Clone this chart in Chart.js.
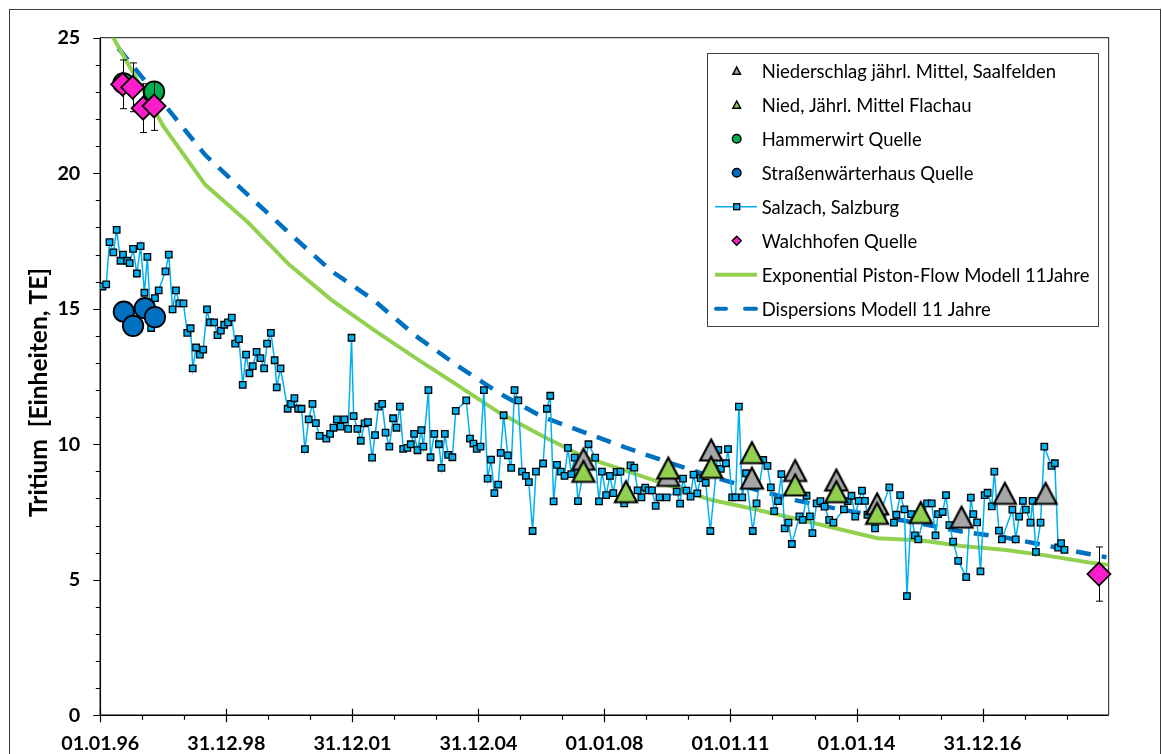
<!DOCTYPE html>
<html><head><meta charset="utf-8">
<script src="https://cdn.jsdelivr.net/npm/chart.js@4"></script>
<style>html,body{margin:0;padding:0;background:#fff;}canvas{display:block}</style>
</head><body>
<canvas id="c" width="1162" height="754"></canvas>
<script>
// ---------- tick labels ----------
const xTickYears = [1996, 1999, 2002, 2005, 2008, 2011, 2014, 2017];
const xTickLabels = ['01.01.96','31.12.98','31.12.01','31.12.04','01.01.08','01.01.11','01.01.14','31.12.16'];
const yTicks = [0, 5, 10, 15, 20, 25];
const yTitle = 'Tritium  [Einheiten, TE]';

// ---------- series ----------
const seriesNames = [
  'Niederschlag jährl. Mittel, Saalfelden',
  'Nied, Jährl. Mittel Flachau',
  'Hammerwirt Quelle',
  'Straßenwärterhaus Quelle',
  'Salzach, Salzburg',
  'Walchhofen Quelle',
  'Exponential Piston-Flow Modell 11Jahre',
  'Dispersions Modell 11 Jahre'
];

const saalfeldenYears  = [2007.50, 2009.52, 2010.54, 2011.51, 2012.54, 2013.52, 2014.49, 2016.50, 2017.53, 2018.50];
const saalfeldenValues = [9.45, 8.85, 9.79, 8.75, 9.03, 8.68, 7.80, 7.31, 8.19, 8.19];

const flachauYears  = [2007.50, 2008.51, 2009.52, 2010.54, 2011.51, 2012.54, 2013.52, 2014.49, 2015.53];
const flachauValues = [9.00, 8.25, 9.12, 9.15, 9.69, 8.50, 8.25, 7.45, 7.48];

const hammerwirtYears  = [1996.55, 1997.28];
const hammerwirtValues = [23.32, 23.01];

const strassenYears  = [1996.56, 1996.78, 1997.06, 1997.30];
const strassenValues = [14.89, 14.37, 15.02, 14.69];

const walchhofenYears  = [1996.53, 1996.77, 1997.02, 1997.28, 2019.77];
const walchhofenValues = [23.28, 23.17, 22.40, 22.48, 5.21];
const walchhofenErrors = [0.9, 0.9, 0.9, 0.9, 1.0];

const salzachYears = [
1996.05,1996.14,1996.22,1996.31,1996.39,1996.48,1996.54,1996.64,1996.70,1996.78,1996.87,1996.96,
1997.05,1997.12,1997.21,1997.30,1997.39,1997.55,1997.63,1997.72,1997.80,1997.88,1997.98,
1998.07,1998.15,1998.20,1998.28,1998.37,1998.45,1998.54,1998.61,1998.71,1998.79,1998.87,1998.95,
1999.04,1999.13,1999.21,1999.30,1999.39,1999.47,1999.55,1999.63,1999.72,1999.81,1999.90,1999.97,
2000.06,2000.15,2000.20,2000.29,2000.46,2000.54,2000.62,2000.71,2000.79,2000.87,2000.96,
2001.05,2001.13,2001.22,2001.38,2001.47,2001.55,2001.63,2001.72,2001.81,2001.90,2001.98,
2002.03,2002.12,2002.20,2002.29,2002.37,2002.47,2002.54,2002.62,2002.71,2002.79,2002.88,2002.97,
2003.05,2003.13,2003.21,2003.31,2003.39,2003.47,2003.55,2003.64,2003.69,2003.81,2003.86,2003.95,
2004.06,2004.12,2004.20,2004.28,2004.38,2004.46,2004.71,2004.80,2004.88,2004.96,
2005.05,2005.13,2005.22,2005.30,2005.38,2005.47,2005.53,2005.60,2005.70,2005.78,2005.86,2005.95,
2006.04,2006.13,2006.20,2006.29,2006.37,2006.54,2006.63,2006.71,2006.79,2006.87,2006.96,
2007.05,2007.13,2007.21,2007.29,2007.37,2007.62,2007.78,2007.87,2007.94,
2008.04,2008.13,2008.21,2008.29,2008.38,2008.47,2008.53,2008.62,2008.71,2008.79,2008.88,2008.97,
2009.05,2009.13,2009.22,2009.31,2009.48,2009.72,2009.80,2009.87,2009.95,
2010.05,2010.12,2010.21,2010.29,2010.41,2010.52,2010.71,2010.77,2010.89,2010.94,
2011.04,2011.12,2011.20,2011.28,2011.37,2011.53,2011.62,2011.78,2011.88,2011.96,
2012.04,2012.13,2012.21,2012.29,2012.38,2012.46,2012.64,2012.72,2012.81,2012.89,2012.95,
2013.05,2013.14,2013.24,2013.35,2013.45,2013.70,2013.79,2013.88,2013.97,
2014.05,2014.13,2014.20,2014.26,2014.44,2014.78,2014.89,2014.95,
2015.04,2015.14,2015.20,2015.30,2015.39,2015.47,2015.68,2015.79,2015.88,2015.94,
2016.05,2016.13,2016.21,2016.30,2016.42,2016.61,2016.72,2016.78,2016.87,2016.95,
2017.05,2017.12,2017.22,2017.28,2017.39,2017.46,2017.71,2017.79,2017.87,2017.96,
2018.03,2018.14,2018.19,2018.27,2018.38,2018.47,2018.64,2018.72,2018.80,2018.87,2018.95
];
const salzachValues = [
15.82,15.90,17.46,17.08,17.91,16.77,17.00,16.77,16.68,17.21,16.30,17.31,
15.59,16.91,14.29,15.39,15.68,16.38,17.00,14.98,15.68,15.20,15.20,
14.11,14.28,12.80,13.57,13.31,13.49,14.98,14.50,14.50,14.03,14.19,14.41,
14.50,14.67,13.71,13.88,12.19,13.31,12.62,12.88,13.41,13.18,12.80,13.71,
14.11,13.10,12.10,12.80,11.31,11.49,11.70,11.31,11.31,9.82,10.92,
11.49,10.78,10.31,10.21,10.38,10.61,10.92,10.65,10.92,10.57,13.93,
11.04,10.57,10.13,10.77,10.82,9.51,10.34,11.39,11.49,10.43,9.91,10.96,
10.61,11.39,9.83,9.87,10.00,10.38,9.78,10.52,9.91,12.00,9.52,10.38,
10.00,9.13,10.38,9.61,9.52,11.23,11.62,10.21,10.02,9.83,
9.91,12.00,8.73,9.43,8.20,8.51,9.68,11.07,9.59,9.13,12.00,11.62,
8.99,8.83,8.60,6.80,8.99,9.29,11.31,11.79,7.89,9.24,8.99,
8.83,9.87,8.90,9.51,7.90,10.00,9.51,7.89,8.99,
8.12,8.83,8.20,8.98,8.99,7.82,8.31,9.22,9.14,8.30,8.04,8.40,
8.30,8.30,7.73,8.04,8.04,8.25,7.81,8.73,8.29,
8.07,8.88,8.19,8.75,8.58,6.80,9.79,9.09,9.30,9.82,
8.04,8.04,11.39,8.04,8.93,6.80,7.82,9.42,9.20,8.41,
7.53,7.90,8.90,6.90,7.11,6.32,7.34,7.21,8.10,7.34,6.72,
7.82,7.90,7.70,7.21,7.11,7.60,7.90,8.10,7.33,
7.91,8.29,7.91,7.40,6.90,8.41,7.11,7.40,
8.12,7.60,4.40,7.42,6.64,6.49,7.82,7.82,6.64,7.42,
7.50,8.12,7.02,6.41,5.70,5.10,8.03,7.42,7.12,5.31,
8.12,8.21,7.71,8.99,6.81,6.49,7.59,6.49,7.33,7.91,
7.59,7.11,7.91,6.03,7.11,9.91,9.20,9.30,6.19,6.35,6.10
];

const epmYears  = [1996.0,1996.5,1997.5,1998.5,1999.5,2000.5,2001.5,2002.5,2003.5,2004.5,2005.5,2006.5,2007.5,2008.5,2009.5,2010.5,2011.5,2012.5,2013.5,2014.5,2015.5,2016.5,2017.5,2018.5,2019.5,2020.0];
const epmValues = [25.86,24.47,21.74,19.57,18.21,16.62,15.33,14.23,13.19,12.18,11.16,10.32,9.54,9.03,8.50,7.96,7.63,7.27,6.90,6.53,6.46,6.25,6.11,5.90,5.65,5.55];

const dispYears  = [1996.43,1997.5,1998.5,1999.5,2000.5,2001.5,2002.5,2003.5,2004.5,2005.5,2006.5,2007.5,2008.5,2009.5,2010.5,2011.5,2012.5,2013.5,2014.5,2015.5,2016.5,2017.5,2018.5,2019.5,2019.95];
const dispValues = [24.61,22.58,20.67,19.22,17.79,16.39,15.33,14.01,12.90,11.88,11.03,10.45,9.88,9.34,8.84,8.37,7.95,7.63,7.35,7.08,6.78,6.57,6.27,5.96,5.83];

// ---------- styling ----------
const FAMILY = 'Lato, "Open Sans", "Noto Sans", sans-serif';
const C_GRAY = '#A6A6A6', C_LGREEN = '#92D050', C_GREEN = '#00B050', C_BLUE = '#0070C0',
      C_CYAN = '#00B0F0', C_PINK = '#FF1DCB';

const mctx = document.createElement('canvas').getContext('2d');
function fitSize(text, weight, target) {
  mctx.font = weight + ' 100px ' + FAMILY;
  return 100 * target / mctx.measureText(text).width;
}
const tickSize = fitSize('01.01.96', 'bold', 78);
const titleSize = fitSize(yTitle, 'bold', 249);
const legendSize = fitSize(seriesNames[6], 'normal', 328);

function triCanvas(fill) {
  const s = 30, c = document.createElement('canvas');
  c.width = s; c.height = s;
  const g = c.getContext('2d');
  const w = 22, h = 21, cx = s / 2, cy = s / 2;
  g.beginPath();
  g.moveTo(cx, cy - h / 2); g.lineTo(cx + w / 2, cy + h / 2); g.lineTo(cx - w / 2, cy + h / 2); g.closePath();
  g.fillStyle = fill; g.fill();
  g.lineWidth = 2.2; g.strokeStyle = '#000'; g.lineJoin = 'miter'; g.stroke();
  return c;
}

const pts = (xs, ys) => xs.map((x, i) => ({ x: x, y: ys[i] }));

const PLOT = { left: 100.3, right: 1108.6, top: 37.7, bottom: 715.3 };

// ---------- plugins ----------
const framePlugin = {
  id: 'frame',
  beforeDatasetsDraw(chart) {
    const ctx = chart.ctx, a = chart.chartArea;
    ctx.save();
    // outer chart border
    ctx.strokeStyle = '#3c3c3c'; ctx.lineWidth = 1;
    ctx.strokeRect(9.5, 9.5, 1151, 760);
    // plot area top / right border
    ctx.strokeStyle = '#404040'; ctx.lineWidth = 1.2;
    ctx.beginPath();
    ctx.moveTo(a.left, a.top); ctx.lineTo(a.right, a.top); ctx.lineTo(a.right, a.bottom);
    ctx.stroke();
    // axes
    ctx.strokeStyle = '#000'; ctx.lineWidth = 1.5;
    ctx.beginPath();
    ctx.moveTo(a.left, a.top); ctx.lineTo(a.left, a.bottom); ctx.lineTo(a.right, a.bottom);
    ctx.stroke();
    const xs = chart.scales.x, ys = chart.scales.y;
    ctx.lineWidth = 1.2;
    ctx.beginPath();
    for (let v = 0; v <= 25; v++) {
      const y = Math.round(ys.getPixelForValue(v)) + 0.5;
      const len = (v % 5 === 0) ? 7 : 4.5;
      ctx.moveTo(a.left - len, y); ctx.lineTo(a.left, y);
    }
    for (let yr = 1996; yr <= 2019; yr++) {
      const x = Math.round(xs.getPixelForValue(yr)) + 0.5;
      if ((yr - 1996) % 3 === 0) { ctx.moveTo(x, a.bottom - 6.5); ctx.lineTo(x, a.bottom + 7); }
      else { ctx.moveTo(x, a.bottom); ctx.lineTo(x, a.bottom + 4.5); }
    }
    ctx.stroke();
    ctx.restore();
  }
};

const errorPlugin = {
  id: 'errbars',
  beforeDatasetDraw(chart, args) {
    if (chart.data.datasets[args.index].label !== seriesNames[5]) return;
    const ctx = chart.ctx, xs = chart.scales.x, ys = chart.scales.y;
    ctx.save();
    ctx.strokeStyle = '#000'; ctx.lineWidth = 1;
    ctx.beginPath();
    walchhofenYears.forEach((yr, i) => {
      const x = Math.round(xs.getPixelForValue(yr)) + 0.5;
      const y1 = ys.getPixelForValue(walchhofenValues[i] + walchhofenErrors[i]);
      const y2 = ys.getPixelForValue(walchhofenValues[i] - walchhofenErrors[i]);
      ctx.moveTo(x, y1); ctx.lineTo(x, y2);
      ctx.moveTo(x - 3.5, y1); ctx.lineTo(x + 3.5, y1);
      ctx.moveTo(x - 3.5, y2); ctx.lineTo(x + 3.5, y2);
    });
    ctx.stroke();
    ctx.restore();
  }
};

const legendPlugin = {
  id: 'boxLegend',
  afterDraw(chart) {
    const ctx = chart.ctx;
    ctx.save();
    ctx.fillStyle = '#fff';
    ctx.fillRect(707, 53, 391, 273);
    ctx.strokeStyle = '#404040'; ctx.lineWidth = 1;
    ctx.strokeRect(707.5, 53.5, 391, 273);
    const sx = 736.7, tx = 761.7;
    ctx.font = 'normal ' + legendSize + 'px ' + FAMILY;
    ctx.textBaseline = 'middle'; ctx.textAlign = 'left';
    seriesNames.forEach((name, i) => {
      const y = 70.7 + i * 34.0;
      ctx.lineWidth = 1.5; ctx.strokeStyle = '#000';
      if (i === 0 || i === 1) {
        ctx.beginPath();
        ctx.moveTo(sx, y - 3.7); ctx.lineTo(sx + 3.8, y + 3.5); ctx.lineTo(sx - 3.8, y + 3.5); ctx.closePath();
        ctx.fillStyle = i === 0 ? C_GRAY : C_LGREEN; ctx.fill(); ctx.stroke();
      } else if (i === 2 || i === 3) {
        ctx.beginPath(); ctx.arc(sx, y, 4.3, 0, Math.PI * 2);
        ctx.fillStyle = i === 2 ? C_GREEN : C_BLUE; ctx.fill(); ctx.stroke();
      } else if (i === 4) {
        ctx.strokeStyle = C_CYAN; ctx.lineWidth = 1.5;
        ctx.beginPath(); ctx.moveTo(715, y); ctx.lineTo(757, y); ctx.stroke();
        ctx.fillStyle = C_CYAN; ctx.fillRect(sx - 3, y - 3, 6, 6);
        ctx.strokeStyle = '#000'; ctx.lineWidth = 1.3; ctx.strokeRect(sx - 3, y - 3, 6, 6);
      } else if (i === 5) {
        ctx.beginPath();
        ctx.moveTo(sx, y - 4.5); ctx.lineTo(sx + 4.5, y); ctx.lineTo(sx, y + 4.5); ctx.lineTo(sx - 4.5, y); ctx.closePath();
        ctx.fillStyle = C_PINK; ctx.fill(); ctx.stroke();
      } else if (i === 6) {
        ctx.strokeStyle = C_LGREEN; ctx.lineWidth = 4;
        ctx.beginPath(); ctx.moveTo(715, y); ctx.lineTo(757, y); ctx.stroke();
      } else {
        ctx.strokeStyle = C_BLUE; ctx.lineWidth = 4; ctx.lineCap = 'round';
        ctx.beginPath(); ctx.moveTo(716, y); ctx.lineTo(726, y); ctx.moveTo(745, y); ctx.lineTo(756, y); ctx.stroke();
        ctx.lineCap = 'butt';
      }
      ctx.fillStyle = '#000';
      ctx.fillText(name, tx, y + 1);
    });
    // y axis title
    ctx.translate(39, 392.5); ctx.rotate(-Math.PI / 2);
    ctx.font = 'bold ' + titleSize + 'px ' + FAMILY;
    ctx.textAlign = 'center'; ctx.textBaseline = 'middle';
    ctx.fillText(yTitle, 0, 0);
    ctx.restore();
  }
};

// ---------- chart ----------
new Chart(document.getElementById('c'), {
  type: 'scatter',
  data: {
    datasets: [
      { label: seriesNames[7], data: pts(dispYears, dispValues), showLine: true, pointRadius: 0,
        borderColor: C_BLUE, borderWidth: 4.5, borderDash: [15, 11], borderCapStyle: 'butt', order: 8 },
      { label: seriesNames[6], data: pts(epmYears, epmValues), showLine: true, pointRadius: 0,
        borderColor: C_LGREEN, borderWidth: 4, order: 7 },
      { label: seriesNames[4], data: pts(salzachYears, salzachValues), showLine: true,
        borderColor: C_CYAN, borderWidth: 1.5, pointStyle: 'rect', pointRadius: 4.6,
        pointBackgroundColor: C_CYAN, pointBorderColor: '#000', pointBorderWidth: 1.3, order: 6 },
      { label: seriesNames[3], data: pts(strassenYears, strassenValues), pointRadius: 10.2,
        pointBackgroundColor: C_BLUE, pointBorderColor: '#000', pointBorderWidth: 1.8, order: 5, clip: false },
      { label: seriesNames[2], data: pts(hammerwirtYears, hammerwirtValues), pointRadius: 10.2,
        pointBackgroundColor: C_GREEN, pointBorderColor: '#000', pointBorderWidth: 1.8, order: 4, clip: false },
      { label: seriesNames[0], data: pts(saalfeldenYears, saalfeldenValues), pointStyle: triCanvas(C_GRAY),
        pointRadius: 12, order: 3, clip: false },
      { label: seriesNames[1], data: pts(flachauYears, flachauValues), pointStyle: triCanvas(C_LGREEN),
        pointRadius: 12, order: 2, clip: false },
      { label: seriesNames[5], data: pts(walchhofenYears, walchhofenValues), pointStyle: 'rectRot', pointRadius: 11.5,
        pointBackgroundColor: C_PINK, pointBorderColor: '#000', pointBorderWidth: 1.8, order: 1, clip: false }
    ]
  },
  options: {
    responsive: false, animation: false, devicePixelRatio: 1,
    events: [],
    layout: { padding: { left: 0, top: PLOT.top, right: 1162 - PLOT.right, bottom: 0 } },
    plugins: { legend: { display: false }, tooltip: { enabled: false } },
    elements: { line: { tension: 0 } },
    scales: {
      x: {
        type: 'linear', min: 1996, max: 2020,
        afterFit(s) { s.height = 754 - PLOT.bottom; },
        afterBuildTicks(s) { s.ticks = xTickYears.map(v => ({ value: v })); },
        grid: { display: false, drawTicks: false }, border: { display: false },
        ticks: { autoSkip: false, maxRotation: 0, padding: 17, color: '#000',
          font: { family: FAMILY, size: tickSize, weight: 'bold' },
          callback: v => { const i = xTickYears.indexOf(v); return i >= 0 ? xTickLabels[i] : ''; } }
      },
      y: {
        type: 'linear', min: 0, max: 25,
        afterFit(s) { s.width = PLOT.left; },
        afterBuildTicks(s) { s.ticks = yTicks.map(v => ({ value: v })); },
        grid: { display: false, drawTicks: false }, border: { display: false },
        ticks: { padding: 20, color: '#000', font: { family: FAMILY, size: tickSize, weight: 'bold' } }
      }
    }
  },
  plugins: [framePlugin, errorPlugin, legendPlugin]
});
</script>
</body></html>
